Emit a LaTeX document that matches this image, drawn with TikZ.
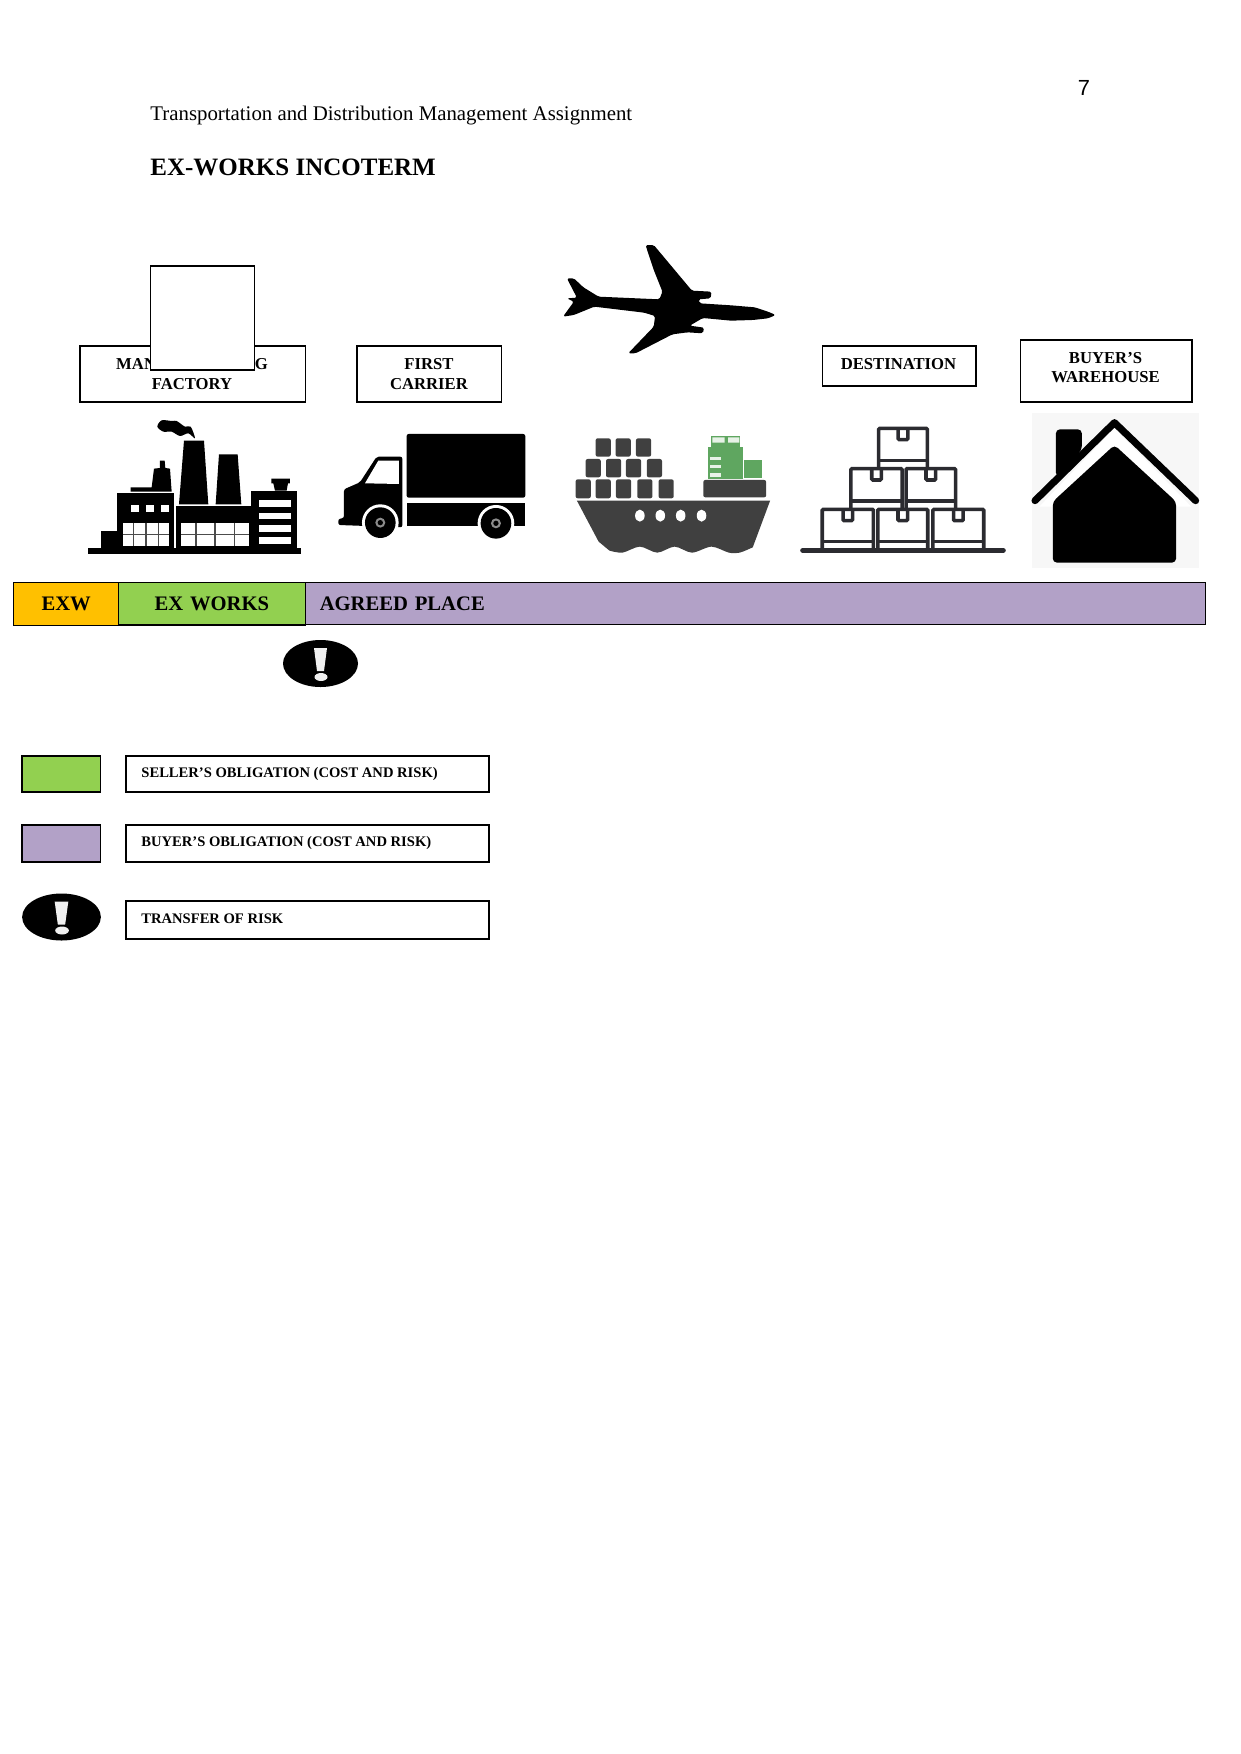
\documentclass[tikz,border=0pt]{standalone}
\usepackage{fontspec}
\setmainfont{Liberation Serif}
\newfontfamily\numfont{Liberation Sans}
\usetikzlibrary{matrix}
\definecolor{exwyellow}{HTML}{FFC000}
\definecolor{sellergreen}{HTML}{92D050}
\definecolor{buyerpurple}{HTML}{B2A1C7}
\definecolor{shipgrey}{HTML}{404040}
\definecolor{shipgreen}{HTML}{5FA660}
\definecolor{cratedark}{HTML}{2B2B30}
\tikzset{
  boxline/.style={draw=black, line width=.5pt},
  labeltext/.style={font=\fontsize{8}{9.2}\selectfont\bfseries, align=center, inner sep=0pt},
  legendtext/.style={font=\fontsize{7}{8}\selectfont\bfseries, anchor=west, inner sep=0pt},
  crate/.style={draw=cratedark, line width=1.7pt, rounded corners=.5pt},
  container/.style={fill=shipgrey, rounded corners=1pt},
  riskmark/.pic={
    \fill[black] (0,0) ellipse (37.5 and 23.5);
    \fill[white!94!black] (-6.5,-15.5) -- (6.5,-15.5) -- (3.5,7.5) -- (-3.5,7.5) -- cycle;
    \fill[white!94!black] (0.5,13.5) ellipse (6.5 and 4);
  }
}
\begin{document}
\begin{tikzpicture}[x=.48pt, y=-.48pt]
    \useasboundingbox (0,0) rectangle (1241,1754);
    % header
    \node[font=\numfont\fontsize{10.5}{12}\selectfont, inner sep=0pt] (pagenum) at (1084,88) {7};
    \node[font=\fontsize{10}{12}\selectfont, anchor=west, inner sep=0pt] (header) at (150,116) {Transportation and Distribution Management Assignment};
    \node[font=\fontsize{12}{14}\selectfont\bfseries, anchor=west, inner sep=0pt] (title) at (150,167) {EX-WORKS INCOTERM};
    % labels above the icons
    \draw[boxline] (80,346) rectangle (305.7,402);
    \node[labeltext] (factory) at (192,374) {MANUFACTURING\\FACTORY};
    \draw[boxline, fill=white] (150.3,266) rectangle (254.7,370);
    \draw[boxline] (357,346) rectangle (501.7,402);
    \node[labeltext] (carrier) at (429,374) {FIRST\\CARRIER};
    \draw[boxline] (822.5,346) rectangle (976,386);
    \node[labeltext] (destination) at (898.5,364) {DESTINATION};
    \draw[boxline] (1020.5,340) rectangle (1192,402);
    \node[labeltext] (warehouse) at (1105.5,367.5) {BUYER’S\\WAREHOUSE};
    % plane
    \begin{scope}[shift={(540,230)}, xscale=.4342, yscale=.3333]
      \fill[black, rounded corners=.8pt] (62,145) -- (78,145) -- (100,172) -- (135,200) -- (275,208) -- (282,185) -- (262,120)
        -- (243,45) -- (262,45) -- (350,182) -- (395,185) -- (393,205) -- (365,208) -- (368,220)
        -- (440,226) -- (495,232) -- (525,245) -- (543,255) -- (525,265) -- (490,270) -- (440,272) -- (375,264) -- (345,287)
        -- (378,293) -- (375,310) -- (340,307) -- (305,313) -- (220,370) -- (203,370) -- (262,290)
        -- (265,258) -- (240,248) -- (125,230) -- (78,255) -- (53,260) -- (78,215) -- (62,205) -- (85,203) -- cycle;
    \end{scope}
    % factory
    \begin{scope}[shift={(60,230)}, scale=.3333]
      \fill[black] (85,955) rectangle (722,973);
      \fill[black] (124,902) rectangle (172,955);
      \fill[black] (172,790) rectangle (343,955);
      \fill[black] (349,828) rectangle (575,960);
      \fill[black] (573,782) rectangle (712,955);
      \fill[black] (645,782) -- (640,760) -- (634,760) -- (634,746) -- (690,746) -- (690,760) -- (684,760) -- (680,782) -- cycle;
      \fill[black] (357,823) -- (372,632) -- (432,632) -- (445,823) -- cycle;
      \fill[black] (467,823) -- (477,673) -- (533,673) -- (544,823) -- cycle;
      \fill[black] (212,785) -- (212,772) -- (275,772) -- (282,716) -- (300,714) -- (300,692) -- (314,692)
        -- (316,714) -- (330,716) -- (335,785) -- cycle;
      \fill[black] plot[smooth cycle] coordinates {(292,590) (305,571) (335,573) (350,573) (375,590) (392,590) (405,625) (385,610) (360,618) (335,605) (310,605)};
      \foreach \wx in {214,258,303}
        \fill[white] (\wx,825) rectangle ++(24,22);
      \fill[white] (190,878) rectangle (326,947);
      \fill[white] (362,878) rectangle (568,947);
      \foreach \gx in {220,258,296,408,465,523}
        \draw[black!70, line width=.5pt] (\gx,878) -- (\gx,947);
      \draw[black!70, line width=.5pt] (190,915) -- (326,915) (362,915) -- (568,915);
      \foreach \sy in {811,848,885,922}
        \fill[white] (596,\sy) rectangle (694,\sy+20);
    \end{scope}
    % truck
    \begin{scope}[shift={(60,230)}, scale=.3333]
      \fill[black, rounded corners=1pt] (1040,612) rectangle (1396,803);
      \fill[black] (1040,820) rectangle (1396,888);
      \fill[black, rounded corners=1pt] (835,885) -- (835,867) -- (852,864) -- (852,778) -- (900,757) -- (950,680) -- (1027,680) -- (1027,892) -- cycle;
      \fill[white] (915,760) -- (955,692) -- (1017,692) -- (1017,762) -- cycle;
      \foreach \tx/\ty in {961/878, 1308/880} {
        \fill[white] (\tx,\ty) circle (55);
        \fill[black] (\tx,\ty) circle (46);
        \fill[black!45] (\tx,\ty) circle (15);
        \fill[black] (\tx,\ty) circle (8);
      }
    \end{scope}
    % ship
    \begin{scope}[shift={(540,230)}, xscale=.4342, yscale=.3333]
      \fill[shipgrey] (85,812) -- (530,812) -- (490,952)
        -- plot[smooth] coordinates {(490,952) (460,968) (435,968) (395,950) (350,968) (310,950) (270,968) (230,950) (190,968) (160,962)}
        -- (135,935) -- cycle;
      \foreach \px in {230,277,324,372}
        \fill[white] (\px,857) ellipse (11 and 18);
      \foreach \cx in {128,174,221}
        \fill[container] (\cx,625) rectangle ++(35,55);
      \foreach \cx in {105,152,198,246}
        \fill[container] (\cx,687) rectangle ++(35,55);
      \foreach \cx in {82,128,175,224,273}
        \fill[container] (\cx,748) rectangle ++(35,57);
      \fill[container] (376,750) rectangle (521,802);
      \fill[shipgreen] (387,650) rectangle (467,748);
      \fill[shipgreen] (393,617) rectangle (461,650);
      \fill[shipgreen] (470,690) rectangle (512,745);
      \fill[white!85!shipgreen] (397,622) rectangle (425,638) (433,622) rectangle (459,638);
      \foreach \sy in {680,704,730}
        \fill[white!85!shipgreen] (392,\sy) rectangle (416,\sy+10);
    \end{scope}
    % crates
    \begin{scope}[shift={(540,230)}, xscale=.4342, yscale=.3333]
      \draw[cratedark, line width=2.4pt, line cap=round] (605,961) -- (1067,961);
      \foreach \bx/\by/\bw in {650/838/118, 778/838/115, 905/838/117, 716/716/118, 843/716/114, 780/595/112} {
        \draw[crate] (\bx,\by+122) -- (\bx,\by) -- (\bx+\bw,\by) -- (\bx+\bw,\by+122);
        \draw[crate] (\bx,\by+97) -- (\bx+\bw,\by+97);
        \draw[crate] (\bx+.5*\bw-11,\by) -- (\bx+.5*\bw-11,\by+34) -- (\bx+.5*\bw+11,\by+34) -- (\bx+.5*\bw+11,\by);
      }
    \end{scope}
    % house
    \begin{scope}[shift={(540,230)}, xscale=.4342, yscale=.3333]
      \fill[black!3] (1132,548) rectangle (1517,1013);
      \fill[black, rounded corners=2pt] (1188,740) -- (1188,598) -- (1248,598) -- (1248,660) -- cycle;
      \fill[white] (1150,830) -- (1323,595) -- (1500,830) -- cycle;
      \draw[black, line width=3.4pt, line cap=round, line join=round] (1140,812) -- (1323,578) -- (1510,812);
      \fill[black, rounded corners=2pt] (1181,815) -- (1323,645) -- (1465,815) -- (1465,998) -- (1181,998) -- cycle;
    \end{scope}
    % incoterm bar
    \matrix (bar) [matrix of nodes, anchor=north west, inner sep=0pt, column sep=-.5pt,
      nodes={boxline, font=\fontsize{9.9}{12}\selectfont\bfseries, minimum height=20.4pt, inner xsep=0pt, inner ysep=0pt}]
      at (13,581.5)
      {
        |[fill=exwyellow, text width=50.2pt, align=center]| EXW &
        |[fill=sellergreen, text width=89.6pt, align=center]| EX WORKS &
        |[fill=buyerpurple, text width=418pt, inner xsep=7pt, align=left]| AGREED PLACE \\
      };
    \pic at (320.5,663.5) {riskmark};
    % legend
    \draw[boxline, fill=sellergreen] (22,756) rectangle (100.7,792);
    \draw[boxline] (126,756) rectangle (489,792);
    \node[legendtext] (seller) at (141,774) {SELLER’S OBLIGATION (COST AND RISK)};
    \draw[boxline, fill=buyerpurple] (22,825) rectangle (100.7,862);
    \draw[boxline] (126,825) rectangle (489,862);
    \node[legendtext] (buyer) at (141,843) {BUYER’S OBLIGATION (COST AND RISK)};
    \pic[xscale=1.05] at (61.5,917) {riskmark};
    \draw[boxline] (126,901) rectangle (489,939);
    \node[legendtext] (transfer) at (141,918.5) {TRANSFER OF RISK};
\end{tikzpicture}
\end{document}
